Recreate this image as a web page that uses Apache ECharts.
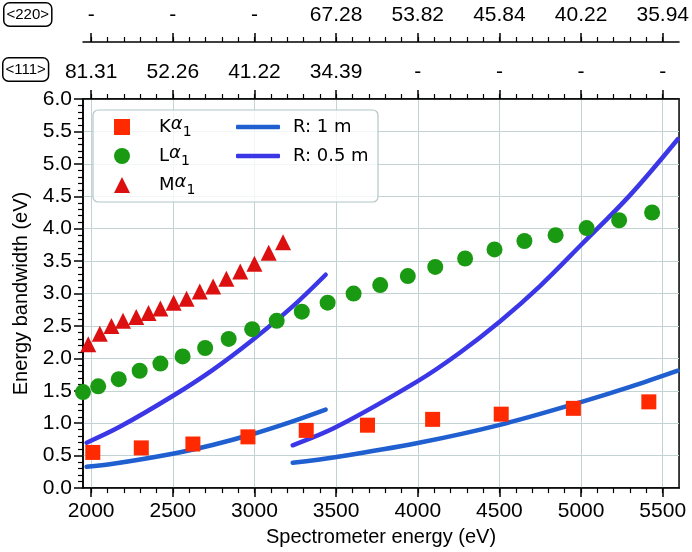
<!DOCTYPE html>
<html>
<head>
<meta charset="utf-8">
<script src="https://cdn.jsdelivr.net/npm/echarts@6/dist/echarts.min.js"></script>
<style>html,body{margin:0;padding:0;background:#fff}#c{width:692px;height:552px}</style>
</head>
<body>
<div id="c"></div>
<script>
// ---- data ----
const energyTicks = [2000, 2500, 3000, 3500, 4000, 4500, 5000, 5500];
const energyMinorTicks = [2000, 2100, 2200, 2300, 2400, 2500, 2600, 2700, 2800, 2900, 3000, 3100, 3200, 3300, 3400, 3500, 3600, 3700, 3800, 3900, 4000, 4100, 4200, 4300, 4400, 4500, 4600, 4700, 4800, 4900, 5000, 5100, 5200, 5300, 5400, 5500];
const labels111 = ['81.31', '52.26', '41.22', '34.39', '-', '-', '-', '-'];
const labels220 = ['-', '-', '-', '67.28', '53.82', '45.84', '40.22', '35.94'];

const kaEnergy = [2010, 2307, 2623, 2960, 3317, 3692, 4091, 4511, 4953, 5415];
const kaWidth  = [0.55, 0.62, 0.68, 0.79, 0.89, 0.97, 1.06, 1.14, 1.23, 1.33];

const laEnergy = [1950, 2043, 2169, 2297, 2424, 2560, 2698, 2842, 2986, 3136, 3290, 3448, 3607, 3770, 3939, 4107, 4290, 4470, 4653, 4844, 5034, 5233, 5435];
const laWidth  = [1.48, 1.57, 1.68, 1.81, 1.92, 2.03, 2.16, 2.30, 2.45, 2.58, 2.72, 2.86, 3.00, 3.13, 3.27, 3.41, 3.54, 3.68, 3.81, 3.90, 4.01, 4.13, 4.25];

const maEnergy = [1982, 2053, 2124, 2195, 2276, 2351, 2424, 2505, 2584, 2665, 2747, 2828, 2913, 3000, 3087, 3175];
const maWidth  = [2.22, 2.38, 2.50, 2.58, 2.64, 2.70, 2.77, 2.86, 2.92, 3.03, 3.11, 3.23, 3.34, 3.46, 3.63, 3.79];

const r1aEnergy = [1972, 2134, 2499, 2743, 2986, 3229, 3436];
const r1aWidth  = [0.33, 0.375, 0.53, 0.665, 0.83, 1.025, 1.21];
const r1bEnergy = [3234, 3503, 4000, 4503, 5004, 5300, 5592];
const r1bWidth  = [0.39, 0.48, 0.695, 0.975, 1.33, 1.56, 1.81];

const r05aEnergy = [1972, 2175, 2499, 2743, 2986, 3229, 3436];
const r05aWidth  = [0.70, 0.945, 1.42, 1.82, 2.28, 2.79, 3.29];
const r05bEnergy = [3234, 3503, 4000, 4253, 4503, 4750, 5004, 5297, 5592];
const r05bWidth  = [0.66, 0.945, 1.65, 2.08, 2.57, 3.12, 3.76, 4.51, 5.38];

const zip = (xs, ys) => xs.map((x, i) => [x, ys[i]]);

// ---- styles ----
const TICK_FONT = 'Liberation Sans';
const FS = 21;
const X_MIN = 1950, X_MAX = 5600;
const gridColor = '#c3d3d3';
const lineW = 1.5;

function baseX(extra) {
  return Object.assign({
    type: 'value', min: X_MIN, max: X_MAX, gridIndex: 0,
    axisLine: { show: false },
    axisTick: { show: false },
    axisLabel: { show: false },
    splitLine: { show: false }
  }, extra);
}

const chart = echarts.init(document.getElementById('c'), null, { renderer: 'canvas' });
const option = {
  animation: false,
  backgroundColor: '#fff',
  grid: { left: 83, right: 9, top: 99, bottom: 61, show: true, borderColor: '#000', borderWidth: lineW, backgroundColor: 'transparent' },
  xAxis: [
    baseX({
      position: 'bottom',
      name: 'Spectrometer energy (eV)', nameLocation: 'middle', nameGap: 35,
      nameTextStyle: { fontFamily: TICK_FONT, fontSize: 20, color: '#000' },
      axisLine: { show: true, lineStyle: { color: '#000', width: lineW } },
      axisTick: { show: true, customValues: energyTicks, length: 9, lineStyle: { color: '#000', width: lineW } },
      axisLabel: { show: true, customValues: energyTicks, margin: 13, fontFamily: TICK_FONT, fontSize: FS, color: '#000',
        formatter: v => String(v) },
      splitLine: { show: true, lineStyle: { color: gridColor, width: 1 } }
    }),
    baseX({
      position: 'bottom',
      axisTick: { show: true, customValues: energyMinorTicks, length: 5, lineStyle: { color: '#000', width: 1.2 } }
    }),
    baseX({
      position: 'top', offset: 0,
      axisLine: { show: true, lineStyle: { color: '#000', width: lineW } },
      axisTick: { show: true, customValues: energyTicks, length: 9, lineStyle: { color: '#000', width: lineW } },
      axisLabel: { show: true, customValues: energyTicks, margin: 16, fontFamily: TICK_FONT, fontSize: FS, color: '#000',
        formatter: v => labels111[energyTicks.indexOf(v)] }
    }),
    baseX({
      position: 'top', offset: 0,
      axisTick: { show: true, customValues: energyMinorTicks, length: 5, lineStyle: { color: '#000', width: 1.2 } }
    }),
    baseX({
      position: 'top', offset: 57,
      axisLine: { show: true, lineStyle: { color: '#000', width: lineW } },
      axisTick: { show: true, customValues: energyTicks, length: 9, lineStyle: { color: '#000', width: lineW } },
      axisLabel: { show: true, customValues: energyTicks, margin: 16, fontFamily: TICK_FONT, fontSize: FS, color: '#000',
        formatter: v => labels220[energyTicks.indexOf(v)] }
    }),
    baseX({
      position: 'top', offset: 57,
      axisTick: { show: true, customValues: energyMinorTicks, length: 5, lineStyle: { color: '#000', width: 1.2 } }
    })
  ],
  yAxis: [{
    type: 'value', min: 0, max: 6, interval: 0.5,
    name: 'Energy bandwidth (eV)', nameLocation: 'middle', nameGap: 52,
    nameTextStyle: { fontFamily: TICK_FONT, fontSize: 20, color: '#000' },
    axisLine: { show: true, lineStyle: { color: '#000', width: lineW } },
    axisTick: { show: true, length: 9, lineStyle: { color: '#000', width: lineW } },
    minorTick: { show: true, splitNumber: 5, length: 5, lineStyle: { color: '#000', width: 1.2 } },
    axisLabel: { margin: 11, fontFamily: TICK_FONT, fontSize: FS, color: '#000', formatter: v => v.toFixed(1) },
    splitLine: { show: true, lineStyle: { color: gridColor, width: 1 } }
  }],
  legend: [
    {
      data: ['Kα1', 'Lα1', 'Mα1'], orient: 'vertical', left: 114, top: 115, padding: 0,
      itemWidth: 16, itemHeight: 16, itemGap: 5, selectedMode: false,
      formatter: n => n[0] + '{i|α}{s|1}',
      textStyle: { fontFamily: 'DejaVu Sans', fontSize: 18, color: '#000', lineHeight: 24, padding: [0, 0, 0, 24],
        rich: {
          i: { fontFamily: 'DejaVu Sans', fontStyle: 'italic', fontSize: 18, verticalAlign: 'top', lineHeight: 24 },
          s: { fontFamily: 'DejaVu Sans', fontSize: 14, verticalAlign: 'bottom', lineHeight: 24 }
        } }
    },
    {
      data: [{ name: 'R: 1 m', icon: 'roundRect' }, { name: 'R: 0.5 m', icon: 'roundRect' }],
      orient: 'vertical', left: 236, top: 115, padding: 0,
      itemWidth: 44, itemHeight: 4.5, itemGap: 5, selectedMode: false,
      textStyle: { fontFamily: 'DejaVu Sans', fontSize: 18, color: '#000', lineHeight: 24, padding: [0, 0, 0, 8] }
    }
  ],
  graphic: [
    { type: 'rect', z: 3, shape: { x: 93, y: 110, width: 285, height: 92, r: 5 },
      style: { fill: 'rgba(255,255,255,0.8)', stroke: '#b4c6c6', lineWidth: 1.2 } },
    { type: 'text', left: 3, top: 2, style: { text: '<220>', fontFamily: 'Liberation Sans Narrow, Liberation Sans', fontSize: 15, fill: '#000',
      padding: [4, 2, 3, 2], borderColor: '#000', borderWidth: 1.5, borderRadius: 5, backgroundColor: '#fff' } },
    { type: 'text', left: 2, top: 57, style: { text: '<111>', fontFamily: 'Liberation Sans Narrow, Liberation Sans', fontSize: 15, fill: '#000',
      padding: [4, 2, 3, 2], borderColor: '#000', borderWidth: 1.5, borderRadius: 5, backgroundColor: '#fff' } }
  ],
  series: [
    { name: 'Kα1', type: 'scatter', xAxisIndex: 0, data: zip(kaEnergy, kaWidth), symbol: 'rect', symbolSize: 15,
      itemStyle: { color: '#ff2a00', opacity: 1 }, z: 5 },
    { name: 'Lα1', type: 'scatter', xAxisIndex: 0, data: zip(laEnergy, laWidth), symbol: 'circle', symbolSize: 16,
      itemStyle: { color: '#1a9a12', opacity: 1 }, z: 5 },
    { name: 'Mα1', type: 'scatter', xAxisIndex: 0, data: zip(maEnergy, maWidth), symbol: 'triangle', symbolSize: 16,
      itemStyle: { color: '#dc1010', opacity: 1 }, z: 5 },
    { name: 'R: 1 m', type: 'line', xAxisIndex: 0, data: zip(r1aEnergy, r1aWidth), smooth: 0.35, symbol: 'none',
      lineStyle: { color: '#1f5fd0', width: 4.5, cap: 'round' }, itemStyle: { color: '#1f5fd0' }, z: 4 },
    { name: 'R: 1 m', type: 'line', xAxisIndex: 0, data: zip(r1bEnergy, r1bWidth), smooth: 0.35, symbol: 'none',
      lineStyle: { color: '#1f5fd0', width: 4.5, cap: 'round' }, itemStyle: { color: '#1f5fd0' }, z: 4 },
    { name: 'R: 0.5 m', type: 'line', xAxisIndex: 0, data: zip(r05aEnergy, r05aWidth), smooth: 0.35, symbol: 'none',
      lineStyle: { color: '#3b36e6', width: 4.5, cap: 'round' }, itemStyle: { color: '#3b36e6' }, z: 4 },
    { name: 'R: 0.5 m', type: 'line', xAxisIndex: 0, data: zip(r05bEnergy, r05bWidth), smooth: 0.35, symbol: 'none',
      lineStyle: { color: '#3b36e6', width: 4.5, cap: 'round' }, itemStyle: { color: '#3b36e6' }, z: 4 }
  ]
};
chart.setOption(option);
</script>
</body>
</html>
